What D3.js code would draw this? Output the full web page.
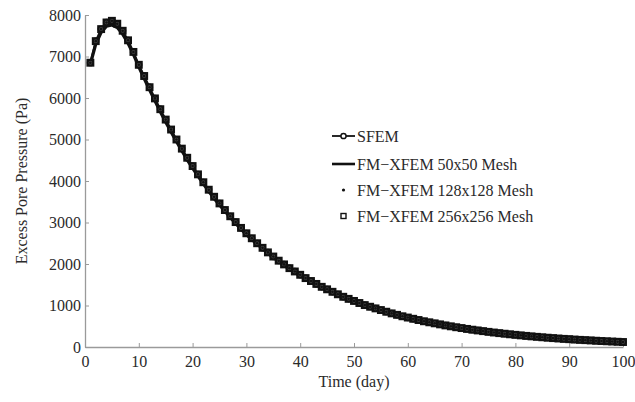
<!DOCTYPE html>
<html>
<head>
<meta charset="utf-8">
<script src="https://cdn.jsdelivr.net/npm/d3@7"></script>
<style>
  body { margin: 0; background: #fff; }
  svg text { font-family: "Liberation Serif", "Times New Roman", serif; }
</style>
</head>
<body>
<div id="chart"></div>
<script>
  // time axis (days)
  const days = d3.range(1, 101)

  // one value per day (Pa)
  const sfem = [6850, 7370, 7660, 7820, 7860, 7790, 7620, 7390, 7110, 6800,
    6530, 6260, 5990, 5730, 5480, 5240, 5000, 4780, 4560, 4360,
    4160, 3970, 3790, 3620, 3460, 3300, 3150, 3010, 2870, 2740,
    2620, 2500, 2390, 2280, 2180, 2080, 1990, 1900, 1820, 1740,
    1660, 1590, 1520, 1450, 1390, 1330, 1270, 1210, 1160, 1110,
    1060, 1010, 970, 930, 890, 850, 810, 775, 740, 710,
    680, 650, 620, 595, 570, 545, 520, 498, 476, 456,
    436, 417, 399, 382, 365, 349, 334, 320, 306, 293,
    280, 268, 256, 245, 234, 224, 214, 205, 196, 188,
    180, 172, 165, 158, 151, 144, 138, 132, 126, 120]

  // 50x50 mesh line sits a little under the markers near the peak
  const xfem50 = [6820, 7300, 7580, 7730, 7760, 7700, 7540, 7320, 7050, 6750,
    6470, 6200, 5930, 5670, 5420, 5180, 4950, 4730, 4510, 4310,
    4120, 3930, 3750, 3580, 3420, 3270, 3120, 2980, 2840, 2710,
    2590, 2480, 2370, 2260, 2160, 2060, 1970, 1880, 1800, 1720,
    1650, 1580, 1510, 1440, 1380, 1320, 1260, 1200, 1150, 1100,
    1050, 1000, 960, 920, 880, 840, 805, 770, 735, 705,
    675, 645, 615, 590, 565, 540, 516, 494, 472, 452,
    432, 413, 395, 378, 362, 346, 331, 317, 303, 290,
    277, 265, 253, 242, 231, 221, 211, 202, 194, 186,
    178, 170, 163, 156, 149, 142, 136, 130, 124, 118]

  // finer meshes overlap the SFEM markers in the picture
  const xfem128 = sfem
  const xfem256 = sfem

  const xTicks = [0, 10, 20, 30, 40, 50, 60, 70, 80, 90, 100]
  const yTicks = [0, 1000, 2000, 3000, 4000, 5000, 6000, 7000, 8000]

  const legendLabels = ["SFEM", "FM\u2212XFEM 50x50 Mesh", "FM\u2212XFEM 128x128 Mesh", "FM\u2212XFEM 256x256 Mesh"]

  // set the dimensions and margins of the graph
  const W = 635, H = 402
  const margin = { top: 15, right: 12, bottom: 55, left: 85 },
    width = W - margin.left - margin.right,
    height = H - margin.top - margin.bottom

  const svg = d3.select("#chart")
    .append("svg")
    .attr("width", W)
    .attr("height", H)
    .append("g")
    .attr("transform", `translate(${margin.left},${margin.top})`)

  const x = d3.scaleLinear().domain([0, 100]).range([0, 538])
  const y = d3.scaleLinear().domain([0, 8000]).range([332, 0])

  const axisColor = "#9a9a9a"
  const textColor = "#2a2a2a"

  // X axis, ticks pointing inward
  const gx = svg.append("g")
    .attr("transform", `translate(0, ${y(0)})`)
    .call(d3.axisBottom(x).tickValues(xTicks).tickFormat(d3.format("d")).tickSizeInner(-4).tickSizeOuter(0).tickPadding(9))
  gx.select(".domain").attr("stroke", axisColor).attr("stroke-width", 1.3)
  gx.selectAll(".tick line").attr("stroke", axisColor)
  gx.selectAll(".tick text").attr("fill", textColor).style("font-size", "16px")

  // Y axis
  const gy = svg.append("g")
    .call(d3.axisLeft(y).tickValues(yTicks).tickFormat(d3.format("d")).tickSizeInner(-4).tickSizeOuter(0).tickPadding(4))
  gy.select(".domain").attr("stroke", axisColor).attr("stroke-width", 1.3)
  gy.selectAll(".tick line").attr("stroke", axisColor)
  gy.selectAll(".tick text").attr("fill", textColor).style("font-size", "16px")

  // axis titles
  svg.append("text")
    .attr("x", x(50))
    .attr("y", 372)
    .attr("text-anchor", "middle")
    .attr("fill", textColor)
    .style("font-size", "16px")
    .text("Time (day)")

  svg.append("text")
    .attr("transform", `translate(-58, ${y(4000)}) rotate(-90)`)
    .attr("text-anchor", "middle")
    .attr("fill", textColor)
    .style("font-size", "16px")
    .text("Excess Pore Pressure (Pa)")

  const line = d3.line()
    .x((d, i) => x(days[i]))
    .y(d => y(d))

  // FM-XFEM 50x50: thick line
  svg.append("path")
    .datum(xfem50)
    .attr("fill", "none")
    .attr("stroke", "#111")
    .attr("stroke-width", 3.2)
    .attr("d", line)

  // SFEM: line + circles
  svg.append("path")
    .datum(sfem)
    .attr("fill", "none")
    .attr("stroke", "#111")
    .attr("stroke-width", 2)
    .attr("d", line)

  svg.append("g")
    .selectAll("circle")
    .data(sfem)
    .join("circle")
    .attr("cx", (d, i) => x(days[i]))
    .attr("cy", d => y(d))
    .attr("r", 2.8)
    .attr("fill", "#444")
    .attr("stroke", "#111")
    .attr("stroke-width", 1.6)

  // FM-XFEM 256x256: hollow squares
  svg.append("g")
    .selectAll("rect")
    .data(xfem256)
    .join("rect")
    .attr("x", (d, i) => x(days[i]) - 3.1)
    .attr("y", d => y(d) - 3.1)
    .attr("width", 6.2)
    .attr("height", 6.2)
    .attr("fill", "none")
    .attr("stroke", "#111")
    .attr("stroke-width", 1.7)

  // FM-XFEM 128x128: dots
  svg.append("g")
    .selectAll("circle")
    .data(xfem128)
    .join("circle")
    .attr("cx", (d, i) => x(days[i]))
    .attr("cy", d => y(d))
    .attr("r", 1.3)
    .attr("fill", "#111")

  // legend
  const lg = svg.append("g").attr("transform", `translate(${332 - margin.left}, ${136 - margin.top})`)
  const rowY = [0, 28, 54, 80]
  lg.selectAll("text")
    .data(legendLabels)
    .join("text")
    .attr("x", 25)
    .attr("y", (d, i) => rowY[i])
    .attr("dy", "0.35em")
    .attr("fill", textColor)
    .style("font-size", "16px")
    .text(d => d)

  lg.append("line").attr("x1", 0).attr("x2", 23).attr("y1", rowY[0]).attr("y2", rowY[0])
    .attr("stroke", "#111").attr("stroke-width", 1.8)
  lg.append("circle").attr("cx", 11.5).attr("cy", rowY[0]).attr("r", 2.6)
    .attr("fill", "#fff").attr("stroke", "#111").attr("stroke-width", 1.5)
  lg.append("line").attr("x1", 0).attr("x2", 23).attr("y1", rowY[1]).attr("y2", rowY[1])
    .attr("stroke", "#111").attr("stroke-width", 2.6)
  lg.append("circle").attr("cx", 11.5).attr("cy", rowY[2]).attr("r", 1.6).attr("fill", "#111")
  lg.append("rect").attr("x", 9).attr("y", rowY[3] - 2.5).attr("width", 5).attr("height", 5)
    .attr("fill", "none").attr("stroke", "#111").attr("stroke-width", 1.4)
</script>
</body>
</html>
